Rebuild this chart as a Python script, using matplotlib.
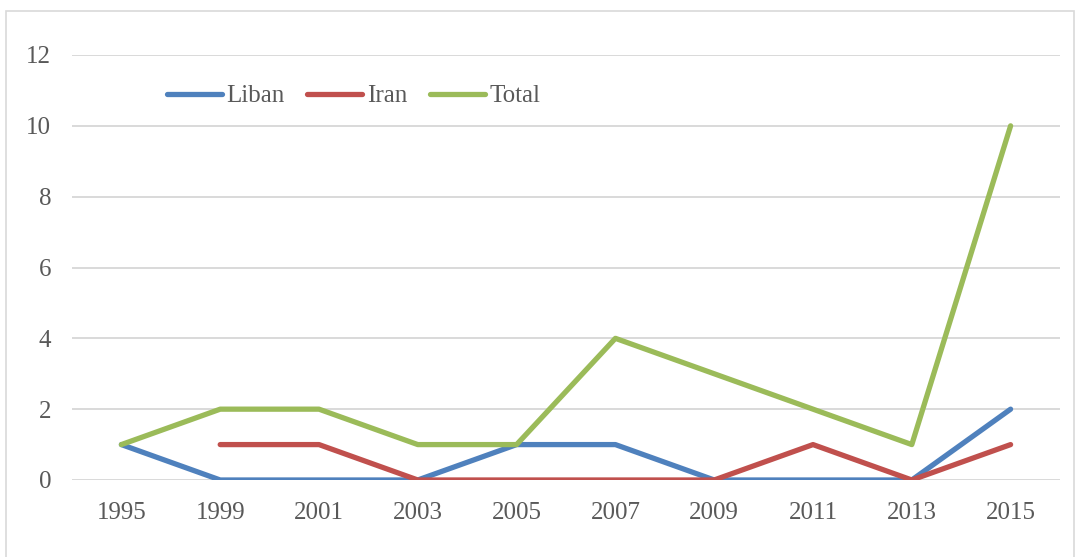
import matplotlib

matplotlib.use("Agg")

import matplotlib.pyplot as plt
import numpy as np
from matplotlib.patches import Rectangle

years = ["1995", "1999", "2001", "2003", "2005", "2007", "2009", "2011", "2013", "2015"]
liban = [1, 0, 0, 0, 1, 1, 0, 0, 0, 2]
iran = [np.nan, 1, 1, 0, 0, 0, 0, 1, 0, 1]
total = [1, 2, 2, 1, 1, 4, 3, 2, 1, 10]

plt.rcParams["font.family"] = ["Liberation Serif", "DejaVu Serif"]

fig = plt.figure(figsize=(10.8, 5.57), dpi=100)
ax = fig.add_axes([72 / 1080, 1 - 480 / 557, 988 / 1080, 425 / 557])

x = np.arange(len(years))
series = [("Liban", liban, "#4F81BD"), ("Iran", iran, "#C0504D"), ("Total", total, "#9BBB59")]
for name, vals, color in series:
    ax.plot(x, vals, color=color, linewidth=3.8, solid_capstyle="round",
            solid_joinstyle="round", label=name)

ax.set_xlim(-0.5, len(years) - 0.5)
ax.set_ylim(0, 12)
ax.set_yticks(range(0, 13, 2))
ax.set_xticks(x)
ax.set_xticklabels(years)
ax.yaxis.grid(True, color="#D9D9D9", linewidth=1.4)
ax.set_axisbelow(True)
for spine in ax.spines.values():
    spine.set_visible(False)
ax.tick_params(length=0, labelsize=18, labelcolor="#595959")
ax.tick_params(axis="x", pad=16)
ax.tick_params(axis="y", pad=15)

leg = ax.legend(loc="center left", bbox_to_anchor=(144 / 1080, 1 - 96 / 557),
                bbox_transform=fig.transFigure, ncol=3, frameon=False,
                fontsize=18, handlelength=2.2, handletextpad=0.2, columnspacing=0.9,
                labelcolor="#595959")

fig.patches.append(Rectangle((6 / 1080, -0.01), 1068 / 1080, 1 - 11 / 557 + 0.01,
                             transform=fig.transFigure, fill=False,
                             edgecolor="#D9D9D9", linewidth=1.2))

fig.savefig("out.png", dpi=100)
